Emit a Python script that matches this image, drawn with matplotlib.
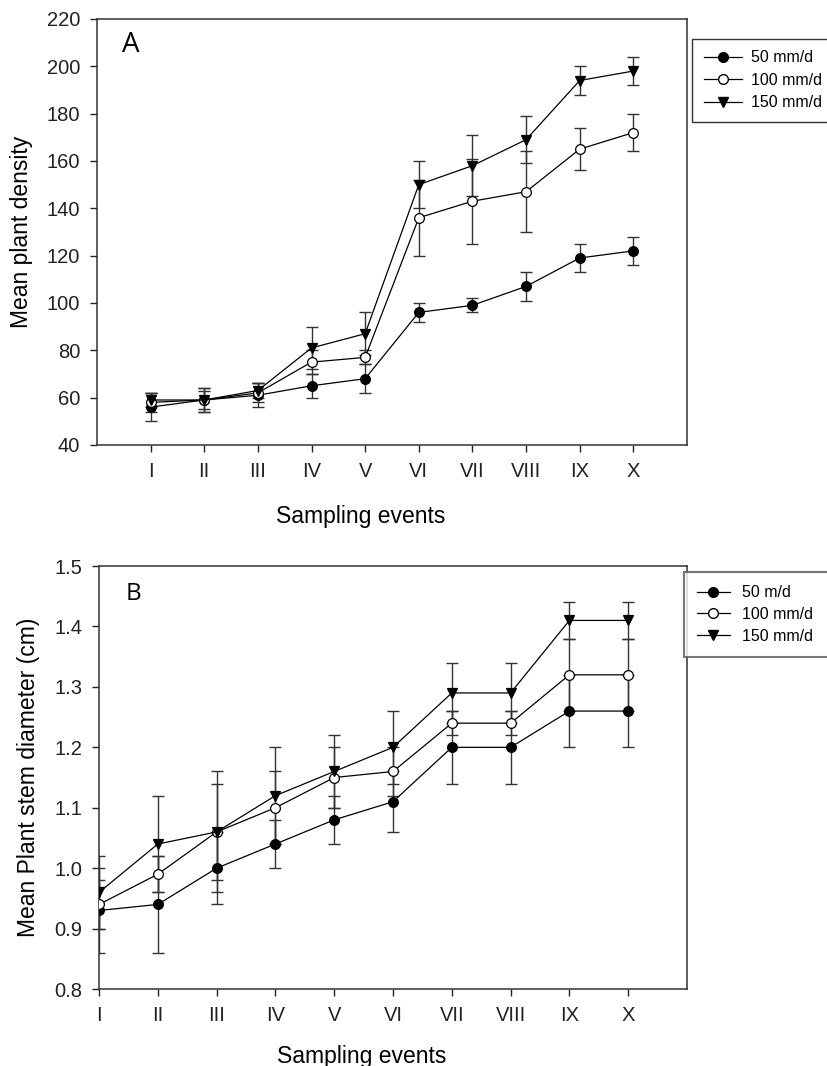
import numpy as np
import matplotlib
matplotlib.use('Agg')
import matplotlib.pyplot as plt
from matplotlib.lines import Line2D

plt.rcParams['font.family'] = ['Liberation Sans', 'DejaVu Sans']

# Data
events = ['I', 'II', 'III', 'IV', 'V', 'VI', 'VII', 'VIII', 'IX', 'X']
x = np.arange(1, 11)

# Panel A: mean plant density
dens_50 = [56, 59, 61, 65, 68, 96, 99, 107, 119, 122]
dens_50_err = [6, 5, 5, 5, 6, 4, 3, 6, 6, 6]
dens_100 = [58, 59, 62, 75, 77, 136, 143, 147, 165, 172]
dens_100_err = [4, 4, 4, 5, 3, 16, 18, 17, 9, 8]
dens_150 = [59, 59, 63, 81, 87, 150, 158, 169, 194, 198]
dens_150_err = [3, 5, 3, 9, 9, 10, 13, 10, 6, 6]

# Panel B: mean stem diameter (cm)
diam_50 = [0.93, 0.94, 1.00, 1.04, 1.08, 1.11, 1.20, 1.20, 1.26, 1.26]
diam_50_err = [0.07, 0.08, 0.06, 0.04, 0.04, 0.05, 0.06, 0.06, 0.06, 0.06]
diam_100 = [0.94, 0.99, 1.06, 1.10, 1.15, 1.16, 1.24, 1.24, 1.32, 1.32]
diam_100_err = [0.04, 0.03, 0.08, 0.06, 0.05, 0.04, 0.02, 0.02, 0.06, 0.06]
diam_150 = [0.96, 1.04, 1.06, 1.12, 1.16, 1.20, 1.29, 1.29, 1.41, 1.41]
diam_150_err = [0.06, 0.08, 0.10, 0.08, 0.06, 0.06, 0.05, 0.05, 0.03, 0.03]

labels_A = ['50 mm/d', '100 mm/d', '150 mm/d']
labels_B = ['50 m/d', '100 mm/d', '150 mm/d']

styles = [dict(marker='o', mfc='black'),
          dict(marker='o', mfc='white'),
          dict(marker='v', mfc='black')]

fig = plt.figure(figsize=(8.28, 10.66), dpi=100)
axA = fig.add_axes([0.1171, 0.5826, 0.7126, 0.3996])
axB = fig.add_axes([0.1196, 0.0722, 0.7101, 0.3968])


def draw(ax, series, errs, labels):
    for y, e in zip(series, errs):
        ax.errorbar(x, y, yerr=e, fmt='none', ecolor='#333333',
                    elinewidth=1.0, capsize=4.6, capthick=1.0, zorder=2)
    for y, st, lab in zip(series, styles, labels):
        ax.plot(x, y, color='black', lw=0.9, marker=st['marker'],
                mfc=st['mfc'], mec='black', mew=0.9, ms=7, zorder=3,
                label=lab)
    ax.set_xticks(x)
    ax.set_xticklabels(events)
    ax.tick_params(direction='out', length=5, width=1, labelsize=14.5,
                   colors='#222222', pad=7)
    for sp in ax.spines.values():
        sp.set_color('#333333')
        sp.set_linewidth(1.1)


handles = [Line2D([], [], color='black', lw=0.9, marker=s['marker'],
                  mfc=s['mfc'], mec='black', ms=7) for s in styles]

# Panel A
draw(axA, [dens_50, dens_100, dens_150],
     [dens_50_err, dens_100_err, dens_150_err], labels_A)
axA.set_xlim(0, 11)
axA.set_ylim(40, 220)
axA.set_yticks(np.arange(40, 221, 20))
axA.set_xlabel('Sampling events', fontsize=16.5)
axA.xaxis.set_label_coords(0.447, -0.141)
axA.set_ylabel('Mean plant density', fontsize=16.5)
axA.yaxis.set_label_coords(-0.108, 0.5)
axA.text(0.042, 0.9225, 'A', transform=axA.transAxes, fontsize=20,
         family='Open Sans', va='baseline')

legA = fig.legend(handles, labels_A, loc='upper left', mode='expand',
                  bbox_to_anchor=(692 / 828, 1 - 39 / 1066, 0.25, 0),
                  fontsize=11.5, frameon=True, fancybox=False,
                  edgecolor='black', borderpad=0.72, handlelength=2.4,
                  handletextpad=0.6, labelspacing=0.46, borderaxespad=0)
legA.get_frame().set_linewidth(1.0)

# Panel B
draw(axB, [diam_50, diam_100, diam_150],
     [diam_50_err, diam_100_err, diam_150_err], labels_B)
axB.set_xlim(1, 11)
axB.set_ylim(0.8, 1.5)
axB.set_yticks(np.arange(0.8, 1.51, 0.1))
axB.set_yticklabels([f'{v:.1f}' for v in np.arange(0.8, 1.51, 0.1)])
axB.set_xlabel('Sampling events', fontsize=16.5)
axB.xaxis.set_label_coords(0.446, -0.132)
axB.set_ylabel('Mean Plant stem diameter (cm)', fontsize=16.5)
axB.yaxis.set_label_coords(-0.100, 0.5)
axB.text(0.046, 0.9196, 'B', transform=axB.transAxes, fontsize=17.5,
         family='Open Sans', va='baseline')

legB = fig.legend(handles, labels_B, loc='upper left', mode='expand',
                  bbox_to_anchor=(684 / 828, 1 - 572 / 1066, 0.25, 0),
                  fontsize=11.5, frameon=True, fancybox=False,
                  edgecolor='#555555', borderpad=0.82, handlelength=2.05,
                  handletextpad=0.75, labelspacing=0.42, borderaxespad=0)
legB.get_frame().set_linewidth(1.5)

fig.savefig('out.png', dpi=100)
